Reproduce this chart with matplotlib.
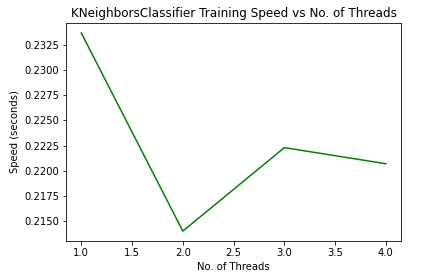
import matplotlib
matplotlib.use("Agg")
import matplotlib.pyplot as plt

threads = [1, 2, 3, 4]
speed = [0.2337, 0.2140, 0.2223, 0.2207]

fig = plt.figure(figsize=(429/72, 278/72), dpi=72)
ax = fig.add_subplot(111)
fig.subplots_adjust(left=0.154, right=0.935, top=0.917, bottom=0.133)

ax.plot(threads, speed, color='green')
ax.set_title('KNeighborsClassifier Training Speed vs No. of Threads')
ax.set_xlabel('No. of Threads')
ax.set_ylabel('Speed (seconds)')

fig.savefig('out.png', dpi=72)
